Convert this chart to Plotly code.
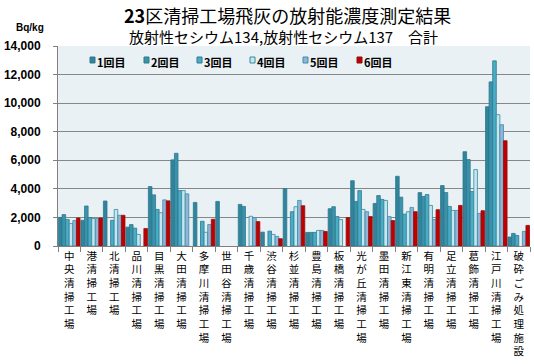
import plotly.graph_objects as go

categories = ["中央清掃工場", "港清掃工場", "北清掃工場", "品川清掃工場", "目黒清掃工場",
              "大田清掃工場", "多摩川清掃工場", "世田谷清掃工場", "千歳清掃工場", "渋谷清掃工場",
              "杉並清掃工場", "豊島清掃工場", "板橋清掃工場", "光が丘清掃工場", "墨田清掃工場",
              "新江東清掃工場", "有明清掃工場", "足立清掃工場", "葛飾清掃工場", "江戸川清掃工場",
              "破砕ごみ処理施設"]

series_names = ["1回目", "2回目", "3回目", "4回目", "5回目", "6回目"]

round1 = [2000, 1800, 3150, 1320, 4160, 6030, 3050, 3120, 2910, 970, 4020, 950, 2610, 4570, 2980, 4880, 3740, 4230, 6600, 9750, 630]
round2 = [2200, 2800, None, 1500, 3580, 6490, None, None, 2770, None, None, 950, 2750, 3120, 3530, 3420, 3470, 3740, 6050, 11490, 880]
round3 = [1850, 1990, 1800, 1250, 2560, 3880, 1730, None, None, 1040, 2400, 950, 2060, 3880, 3260, 2230, 3600, 2770, 3810, 12960, 740]
round4 = [1570, 1920, 2560, 810, 2330, 3880, 960, None, 2080, 810, 2750, 1090, 1850, 2560, 3190, 2400, 2840, 2490, 5350, 9190, None]
round5 = [1780, 1920, 2150, None, 3230, 3650, 1500, None, 1990, 670, 3190, 1090, None, 2400, 2060, 2700, 1860, 2490, 2280, 8490, 1020]
round6 = [1960, 1960, 2150, 1220, 3160, None, 1870, None, 1710, 510, 2820, 1020, 1990, 2060, 1780, 2400, 2540, 2840, 2470, 7370, 1440]

y_tickvals = [0, 2000, 4000, 6000, 8000, 10000, 12000, 14000]
y_ticktext = ["0", "2,000", "4,000", "6,000", "8,000", "10,000", "12,000", "14,000"]

title_line1 = "<b>23</b>区清掃工場飛灰の放射能濃度測定結果"
title_line2 = "放射性セシウム134,放射性セシウム137　合計"

all_series = [round1, round2, round3, round4, round5, round6]
fill_colors = ["#31849B", "#3B92AA", "#4BACC6", "#C9E6EE", "#95B3D7", "#C00000"]
line_colors = ["#2C7A8F", "#2C7A8F", "#2C7A8F", "#2F8BA3", "#3A8FA8", "#8E1010"]

CJK = "Noto Sans CJK JP, Liberation Sans, sans-serif"
LAT = "Liberation Sans, Arial, Noto Sans CJK JP, sans-serif"

fig = go.Figure()
for name, vals, fc, lc in zip(series_names, all_series, fill_colors, line_colors):
    fig.add_trace(go.Bar(x=categories, y=vals, name=name,
                         marker=dict(color=fc, line=dict(color=lc, width=0.8)),
                         showlegend=False))

vertical = ["<br>".join(list(c)) for c in categories]

L, R, T, B = 58, 4, 46, 118
W, H = 534, 364
pw = W - L - R
ph = H - T - B

fig.update_layout(
    width=W, height=H,
    margin=dict(l=L, r=R, t=T, b=B),
    paper_bgcolor="white",
    plot_bgcolor="#EAF1F5",
    barmode="group",
    bargap=0.04,
    bargroupgap=0,
    xaxis=dict(
        tickmode="array", tickvals=categories, ticktext=vertical,
        tickangle=0, tickson="boundaries", ticks="outside", ticklen=5,
        tickcolor="#808080", showline=True, linecolor="#808080", linewidth=1,
        tickfont=dict(family=CJK, size=10.5, color="#000000"),
        showgrid=False,
    ),
    yaxis=dict(
        range=[0, 14000], tickmode="array", tickvals=y_tickvals, ticktext=y_ticktext,
        ticks="outside", ticklen=4, tickcolor="#808080",
        showline=True, linecolor="#808080", linewidth=1,
        showgrid=True, gridcolor="#878787", gridwidth=1.2,
        tickfont=dict(family=LAT, size=12, color="#000000", weight="bold"),
        ticklabelstandoff=10, zeroline=False,
    ),
)

def py(pix):
    """convert pixel y (from top of figure) to paper coordinate"""
    return (H - B - pix) / ph

def px_(pix):
    return (pix - L) / pw

# Title lines
fig.add_annotation(text=title_line1, xref="paper", yref="paper",
                   x=px_(287), y=py(14.5), xanchor="center", yanchor="middle",
                   showarrow=False, borderpad=0,
                   font=dict(family=CJK, size=18, color="#000000"))
fig.add_annotation(text=title_line2, xref="paper", yref="paper",
                   x=px_(283), y=py(36.5), xanchor="center", yanchor="middle",
                   showarrow=False, borderpad=0,
                   font=dict(family=CJK, size=15, color="#000000"))

# Unit label
fig.add_annotation(text="<b>Bq/kg</b>", xref="paper", yref="paper",
                   x=px_(30), y=py(27), xanchor="center", yanchor="middle",
                   showarrow=False, borderpad=0,
                   font=dict(family=LAT, size=10, color="#000000"))

# Custom legend (square + text, compact like the original)
leg_x = [90, 144, 197, 250, 303, 357]
for name, fc, lc, lx in zip(series_names, fill_colors, line_colors, leg_x):
    fig.add_shape(type="rect", xref="paper", yref="paper",
                  x0=px_(lx), x1=px_(lx + 5), y0=py(63), y1=py(57),
                  fillcolor=fc, line=dict(color=lc, width=1))
    fig.add_annotation(text=name, xref="paper", yref="paper",
                       x=px_(lx + 6), y=py(61.5),
                       xanchor="left", yanchor="middle", showarrow=False, borderpad=0,
                       font=dict(family=CJK, size=11, color="#000000", weight="bold"))

fig.write_html("out.html", config={"displayModeBar": False},
               post_script="document.body.style.margin='0';document.body.style.padding='0';")
